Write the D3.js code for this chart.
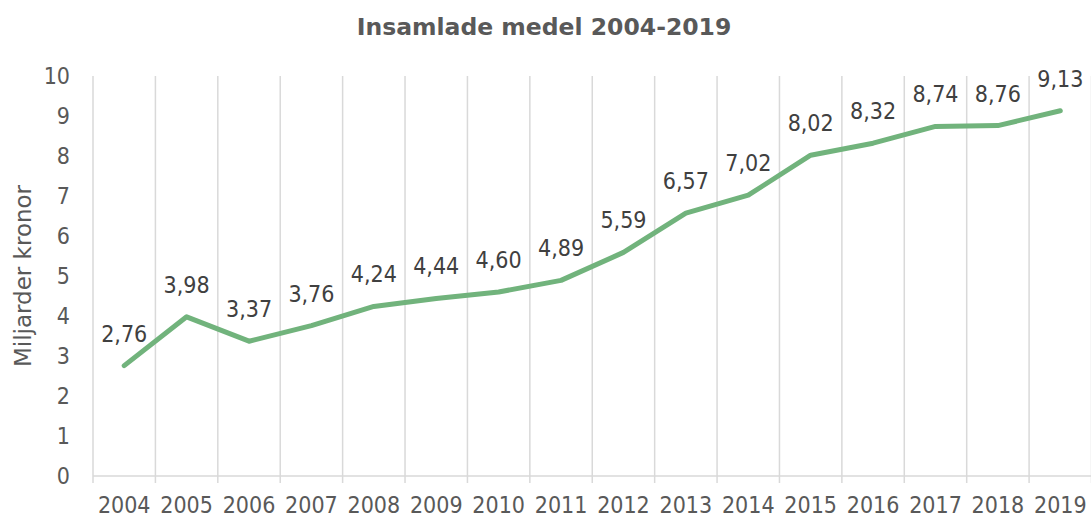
<!DOCTYPE html>
<html>
<head>
<meta charset="utf-8">
<script src="https://cdn.jsdelivr.net/npm/d3@7"></script>
<style>
  body { margin: 0; background: #fff; }
  svg text { font-family: "DejaVu Sans Condensed", "DejaVu Sans", sans-serif; font-stretch: condensed; }
  svg text.wide { font-family: "DejaVu Sans", sans-serif; font-stretch: normal; }
</style>
</head>
<body>
<svg id="chart" width="1091" height="517"></svg>
<script>
// data
var years = ["2004","2005","2006","2007","2008","2009","2010","2011","2012","2013","2014","2015","2016","2017","2018","2019"];
var values = [2.76, 3.98, 3.37, 3.76, 4.24, 4.44, 4.60, 4.89, 5.59, 6.57, 7.02, 8.02, 8.32, 8.74, 8.76, 9.13];
var yTicks = [0,1,2,3,4,5,6,7,8,9,10];

var svg = d3.select("#chart");
var plotLeft = 93, plotRight = 1091.5, plotTop = 76, plotBottom = 476;

var x = d3.scaleBand().domain(years).range([plotLeft, plotRight]);
var y = d3.scaleLinear().domain([0, 10]).range([plotBottom, plotTop]);

// title
svg.append("text")
    .attr("class", "wide")
    .attr("x", 544).attr("y", 35)
    .attr("text-anchor", "middle")
    .attr("font-size", 23.5).attr("font-weight", "bold")
    .attr("fill", "#595959")
    .text("Insamlade medel 2004-2019");

// vertical gridlines at category boundaries
var bounds = years.map(function(d){ return x(d); }).concat([x.range()[1]]);
svg.append("g").selectAll("line")
    .data(bounds)
    .enter().append("line")
    .attr("x1", function(d){ return d; }).attr("x2", function(d){ return d; })
    .attr("y1", plotTop).attr("y2", plotBottom + 7)
    .attr("stroke", "#d9d9d9").attr("stroke-width", 1.5);

// x axis line
svg.append("line")
    .attr("x1", plotLeft).attr("x2", plotRight)
    .attr("y1", plotBottom).attr("y2", plotBottom)
    .attr("stroke", "#d9d9d9").attr("stroke-width", 1.5);

// y tick labels
svg.append("g").selectAll("text")
    .data(yTicks)
    .enter().append("text")
    .attr("x", 70).attr("y", function(d){ return y(d); })
    .attr("dy", "0.36em")
    .attr("text-anchor", "end")
    .attr("font-size", 23).attr("fill", "#595959")
    .text(function(d){ return d; });

// x tick labels
svg.append("g").selectAll("text")
    .data(years)
    .enter().append("text")
    .attr("x", function(d){ return x(d) + x.bandwidth()/2; })
    .attr("y", 513)
    .attr("text-anchor", "middle")
    .attr("font-size", 23).attr("fill", "#595959")
    .text(function(d){ return d; });

// y axis title
svg.append("text")
    .attr("class", "wide")
    .attr("transform", "translate(31," + ((plotTop + plotBottom)/2) + ") rotate(-90)")
    .attr("text-anchor", "middle")
    .attr("font-size", 23).attr("fill", "#595959")
    .text("Miljarder kronor");

// line
var line = d3.line()
    .x(function(d, i){ return x(years[i]) + x.bandwidth()/2; })
    .y(function(d){ return y(d); });

svg.append("path")
    .datum(values)
    .attr("d", line)
    .attr("fill", "none")
    .attr("stroke", "#71b37c")
    .attr("stroke-width", 5)
    .attr("stroke-linejoin", "round")
    .attr("stroke-linecap", "round");

// data labels
svg.append("g").selectAll("text")
    .data(values)
    .enter().append("text")
    .attr("x", function(d, i){ return x(years[i]) + x.bandwidth()/2; })
    .attr("y", function(d){ return y(d) - 24; })
    .attr("text-anchor", "middle")
    .attr("font-size", 23).attr("fill", "#404040")
    .text(function(d){ return d.toFixed(2).replace(".", ","); });
</script>
</body>
</html>
